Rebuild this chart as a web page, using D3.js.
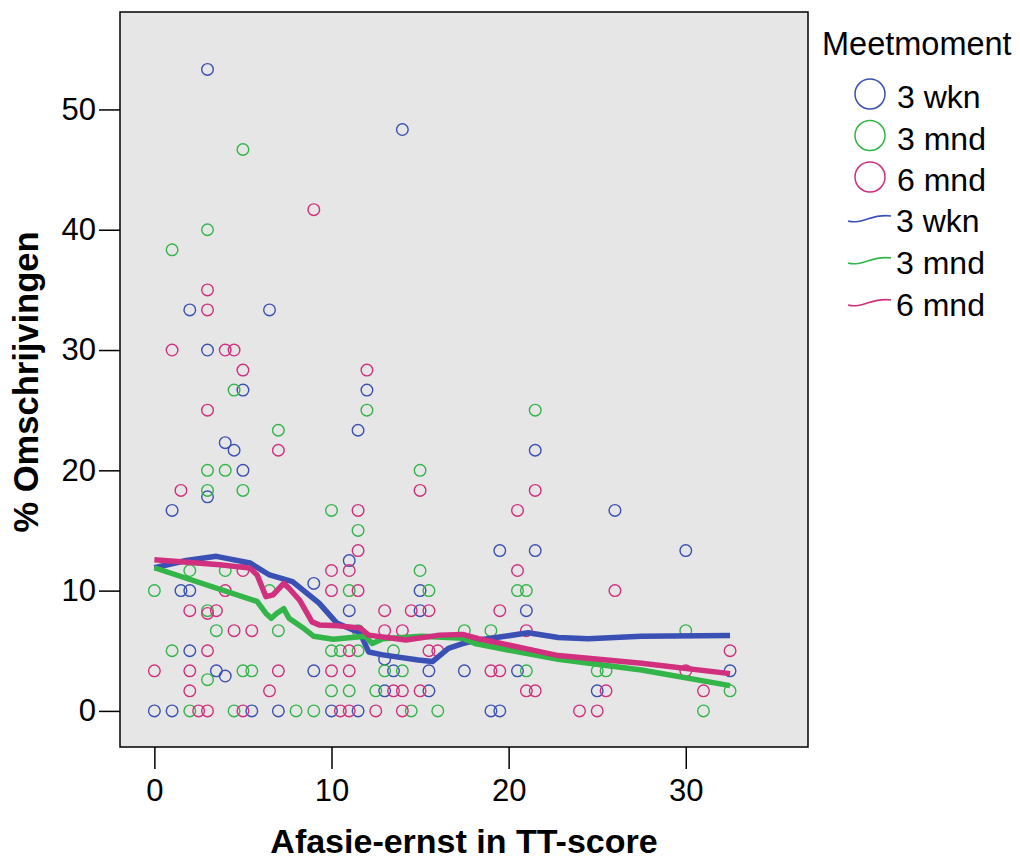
<!DOCTYPE html>
<html>
<head>
<meta charset="utf-8">
<script src="https://cdn.jsdelivr.net/npm/d3@7/dist/d3.min.js"></script>
<style>
  body { margin: 0; background: #fff; }
  text { font-family: "Liberation Sans", Arial, sans-serif; }
</style>
</head>
<body>
<div id="chart"></div>
<script>
// scatter points per Meetmoment
var wknX = [3, 14, 2, 6.5, 3, 5, 11.5, 12, 4, 4.5, 5, 3, 1, 11, 1.5, 2, 9, 11, 2, 3.5, 4, 9, 0, 1, 5.5, 7, 10, 11.5,
  21.5, 19.5, 21.5, 15, 15, 21, 13, 13.5, 15.5, 17.5, 20.5, 13, 15.5, 19, 19.5, 26, 30, 32.5, 25];
var wknY = [53.33, 48.33, 33.33, 33.33, 30, 26.67, 23.33, 26.67, 22.3, 21.67, 20, 17.8, 16.67, 12.5, 10, 10, 10.6, 8.33, 5, 3.33, 2.9, 3.33, 0, 0, 0, 0, 0, 0,
  21.67, 13.33, 13.33, 10, 8.33, 8.33, 4.3, 3.33, 3.33, 3.33, 3.33, 1.67, 1.67, 0, 0, 16.67, 13.33, 3.33, 1.67];

var mnd3X = [5, 3, 1, 4.5, 7, 3, 4, 3, 5, 10, 11.5, 2, 4, 0, 6.5, 3, 3.5, 7, 1, 5, 5.5, 3, 2, 4.5, 8, 9, 10, 10.5, 11.5,
  10, 11, 11, 12, 21.5, 15, 15, 15.5, 20.5, 21, 11.5, 17.5, 19, 13.5, 13, 14, 21, 12.5, 14.5, 16, 30, 25, 25.5, 32.5, 31];
var mnd3Y = [46.67, 40, 38.33, 26.67, 23.33, 20, 20, 18.33, 18.33, 16.67, 15, 11.67, 11.67, 10, 10, 8.33, 6.67, 6.67, 5, 3.33, 3.33, 2.6, 0, 0, 0, 0, 5, 5, 5,
  1.67, 1.67, 10, 25, 25, 20, 11.67, 10, 10, 10, 6.67, 6.67, 6.67, 5, 3.33, 3.33, 3.33, 1.67, 0, 0, 6.67, 3.33, 3.33, 1.67, 0];

var mnd6X = [9, 3, 3, 1, 4, 4.5, 5, 3, 7, 1.5, 11.5, 11.5, 5, 10, 11, 4, 10, 11.5, 2, 3, 3.5, 4.5, 5.5, 3, 11, 0, 2, 7, 10, 11,
  2, 6.5, 2.5, 3, 5, 10.5, 11, 12, 15, 21.5, 20.5, 20.5, 13, 14.5, 15.5, 19.5, 13, 14, 21, 15.5, 16, 19, 19.5, 13.5, 14, 15,
  21, 21.5, 12.5, 14, 24, 26, 32.5, 30, 25.5, 31, 25];
var mnd6Y = [41.67, 35, 33.33, 30, 30, 30, 28.33, 25, 21.67, 18.33, 16.67, 13.33, 11.67, 11.67, 11.67, 10, 10, 10, 8.33, 8.1, 8.33, 6.67, 6.67, 5, 5, 3.33, 3.33, 3.33, 3.33, 3.33,
  1.67, 1.67, 0, 0, 0, 0, 0, 28.33, 18.33, 18.33, 16.67, 11.67, 8.33, 8.33, 8.33, 8.33, 6.67, 6.67, 6.67, 5, 5, 3.33, 3.33, 1.67, 1.67, 1.67,
  1.67, 1.67, 0, 0, 0, 10, 5, 3.33, 1.67, 1.67, 0];

// loess fit lines
var fitWknX = [0, 1.8, 3.5, 5.4, 6.5, 7.8, 9.3, 10.3, 11.6, 12.1, 12.9, 14.9, 15.7, 16.6, 17.4, 18.3, 19.8, 21.1, 22.8, 24.5, 27.5, 32.5];
var fitWknY = [11.9, 12.5, 12.85, 12.3, 11.3, 10.75, 8.96, 7.3, 6.5, 4.9, 4.66, 4.24, 4.1, 5.2, 5.6, 5.9, 6.2, 6.5, 6.1, 6.0, 6.2, 6.27];
var fitMnd3X = [0, 5.8, 6.3, 6.6, 6.9, 7.3, 7.6, 8.4, 9.0, 10.1, 11.9, 12.3, 12.9, 15.1, 17.4, 18.1, 20.9, 22.8, 27.5, 32.5];
var fitMnd3Y = [11.9, 9.1, 8.1, 7.7, 8.1, 8.5, 7.7, 6.9, 6.2, 5.95, 6.2, 5.6, 6.0, 6.2, 6.05, 5.6, 4.8, 4.3, 3.4, 2.1];
var fitMnd6X = [0, 3.7, 5.4, 5.8, 6.3, 6.7, 7.3, 7.6, 8.2, 8.9, 9.3, 10.4, 11.6, 12.1, 14.2, 16.1, 17.4, 18.3, 20.9, 22.8, 27.5, 32.5];
var fitMnd6Y = [12.56, 12.15, 11.87, 11.3, 9.5, 9.65, 10.6, 10.2, 9.2, 7.4, 7.15, 7.07, 6.9, 6.3, 5.9, 6.3, 6.36, 6.0, 5.2, 4.6, 3.96, 3.1];

var xTicks = [0, 10, 20, 30];
var yTicks = [0, 10, 20, 30, 40, 50];
var groupNames = ['3 wkn', '3 mnd', '6 mnd'];
var groupColors = ['#3a50b4', '#33b54a', '#d0307e'];

var width = 1020;
var height = 859;
var plot = { left: 120, top: 12, right: 808, bottom: 747 };

var svg = d3.select('#chart')
  .append('svg')
  .attr('width', width)
  .attr('height', height);

var x = d3.scaleLinear().domain([-1.94, 36.9]).range([plot.left, plot.right]);
var y = d3.scaleLinear().domain([-3.0, 58.1]).range([plot.bottom, plot.top]);

svg.append('rect')
  .attr('x', plot.left)
  .attr('y', plot.top)
  .attr('width', plot.right - plot.left)
  .attr('height', plot.bottom - plot.top)
  .attr('fill', '#e6e6e6');

function zip (xs, ys) {
  return xs.map(function (d, i) { return [d, ys[i]]; });
}

var pointSets = [zip(wknX, wknY), zip(mnd3X, mnd3Y), zip(mnd6X, mnd6Y)];
var fitSets = [zip(fitWknX, fitWknY), zip(fitMnd3X, fitMnd3Y), zip(fitMnd6X, fitMnd6Y)];

pointSets.forEach(function (pts, g) {
  svg.append('g')
    .selectAll('circle')
    .data(pts)
    .enter()
    .append('circle')
    .attr('cx', function (d) { return x(d[0]); })
    .attr('cy', function (d) { return y(d[1]); })
    .attr('r', 5.8)
    .attr('fill', 'none')
    .attr('stroke', groupColors[g])
    .attr('stroke-width', 1.4);
});

var line = d3.line()
  .x(function (d) { return x(d[0]); })
  .y(function (d) { return y(d[1]); });

fitSets.forEach(function (pts, g) {
  svg.append('path')
    .datum(pts)
    .attr('d', line)
    .attr('fill', 'none')
    .attr('stroke', groupColors[g])
    .attr('stroke-width', 5.5)
    .attr('stroke-linejoin', 'round');
});

// frame
svg.append('rect')
  .attr('x', plot.left)
  .attr('y', plot.top)
  .attr('width', plot.right - plot.left)
  .attr('height', plot.bottom - plot.top)
  .attr('fill', 'none')
  .attr('stroke', '#000')
  .attr('stroke-width', 1.5);

var xAxis = svg.append('g')
  .attr('transform', 'translate(0,' + plot.bottom + ')')
  .call(d3.axisBottom(x).tickValues(xTicks).tickSize(22).tickPadding(10));
var yAxis = svg.append('g')
  .attr('transform', 'translate(' + plot.left + ',0)')
  .call(d3.axisLeft(y).tickValues(yTicks).tickSize(21).tickPadding(3));

[xAxis, yAxis].forEach(function (ax) {
  ax.select('.domain').remove();
  ax.selectAll('line').attr('stroke', '#000').attr('stroke-width', 1.5);
  ax.selectAll('text')
    .attr('fill', '#000')
    .style('font-family', '"Liberation Sans", Arial, sans-serif')
    .style('font-size', '31px');
});

svg.append('text')
  .attr('x', 464)
  .attr('y', 853)
  .attr('text-anchor', 'middle')
  .style('font-size', '34px')
  .style('font-weight', 'bold')
  .text('Afasie-ernst in TT-score');

svg.append('text')
  .attr('transform', 'translate(38,382) rotate(-90)')
  .attr('text-anchor', 'middle')
  .style('font-size', '34.5px')
  .style('font-weight', 'bold')
  .text('% Omschrijvingen');

// legend
var legend = svg.append('g');
legend.append('text')
  .attr('x', 822)
  .attr('y', 55)
  .style('font-size', '32.5px')
  .text('Meetmoment');

groupNames.forEach(function (name, i) {
  var cy = 94 + i * 41.5;
  legend.append('circle')
    .attr('cx', 870)
    .attr('cy', cy)
    .attr('r', 15)
    .attr('fill', 'none')
    .attr('stroke', groupColors[i])
    .attr('stroke-width', 1.5);
  legend.append('text')
    .attr('x', 897)
    .attr('y', cy + 14)
    .style('font-size', '32px')
    .text(name);
});

groupNames.forEach(function (name, i) {
  var ly = 218 + i * 42;
  legend.append('path')
    .attr('d', 'M848,' + (ly + 3) + ' C862,' + (ly + 7) + ' 872,' + (ly - 5) + ' 891,' + (ly - 2))
    .attr('fill', 'none')
    .attr('stroke', groupColors[i])
    .attr('stroke-width', 1.6);
  legend.append('text')
    .attr('x', 896)
    .attr('y', ly + 14)
    .style('font-size', '32px')
    .text(name);
});
</script>
</body>
</html>
